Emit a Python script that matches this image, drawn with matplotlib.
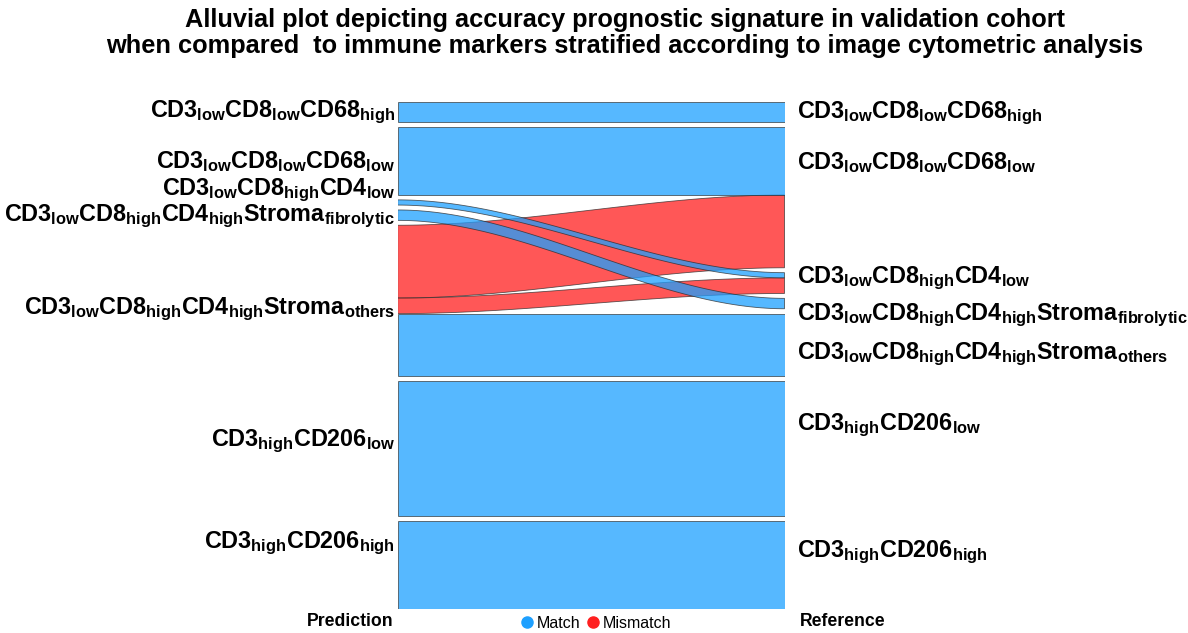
import numpy as np
import matplotlib.pyplot as plt
from matplotlib.patches import Polygon
from matplotlib.lines import Line2D

plt.rcParams['font.family'] = 'Liberation Sans'
plt.rcParams['mathtext.fontset'] = 'custom'
plt.rcParams['mathtext.rm'] = 'Liberation Sans'
plt.rcParams['mathtext.bf'] = 'Liberation Sans:bold'
plt.rcParams['mathtext.it'] = 'Liberation Sans:italic'

## data #######################################################################
strata = [r'$\mathbf{CD3_{low}CD8_{low}CD68_{high}}$',
          r'$\mathbf{CD3_{low}CD8_{low}CD68_{low}}$',
          r'$\mathbf{CD3_{low}CD8_{high}CD4_{low}}$',
          r'$\mathbf{CD3_{low}CD8_{high}CD4_{high}Stroma_{fibrolytic}}$',
          r'$\mathbf{CD3_{low}CD8_{high}CD4_{high}Stroma_{others}}$',
          r'$\mathbf{CD3_{high}CD206_{low}}$',
          r'$\mathbf{CD3_{high}CD206_{high}}$']

# one entry per flow: predicted stratum -> reference stratum, patient count
pred   = [0, 1, 2, 3, 4, 4, 4, 5, 6]
ref    = [0, 1, 2, 3, 1, 2, 4, 5, 6]
counts = [4, 13, 1, 2, 14, 3, 12, 26, 17]

## options ####################################################################
W, H = 1188, 633
colMatch, colMis = '#1EA0FF', '#FF1F1F'
gap = 0.94

## stacking ###################################################################
nS = len(strata)
pred, ref, counts = np.array(pred), np.array(ref), np.array(counts)
match = pred == ref

def stack(side, other):
    # y-position of every flow on one axis, strata separated by a gap
    top = np.zeros(len(counts))
    y = 0.0
    for s in range(nS):
        idx = np.where(side == s)[0]
        idx = idx[np.argsort(other[idx], kind='stable')]
        for i in idx:
            top[i] = y
            y += counts[i]
        y += gap
    return top, y - gap

yL, total = stack(pred, ref)
yR, _     = stack(ref, pred)

## figure #####################################################################
fig = plt.figure(figsize=(W/100, H/100), dpi=100, facecolor='white')
xL, xR, yT, yB = 397.7, 784.5, 101.7, 609.4
ax = fig.add_axes([xL/W, 1 - yB/H, (xR - xL)/W, (yB - yT)/H])
ax.set_xlim(0, 1)
ax.set_ylim(total, 0)
ax.axis('off')

t = np.linspace(0, 1, 120)
s = 3*t**2 - 2*t**3
order = list(np.where(~match)[0]) + list(np.where(match)[0])
for i in order:
    top = yL[i] + (yR[i] - yL[i])*s
    bot = top + counts[i]
    pts = np.vstack([np.column_stack([t, top]),
                     np.column_stack([t[::-1], bot[::-1]])])
    ax.add_patch(Polygon(pts, closed=True,
                         facecolor=colMatch if match[i] else colMis,
                         alpha=0.75, edgecolor='#2a2a2a', lw=0.6))

# stratum labels
def px(x, y):
    return x/W, 1 - y/H

baseL = [117, 168, 195, 221, 314, 446, 548]
baseR = [118, 169, 283, 320, 359, 430, 557]
for k in range(nS):
    fig.text(*px(395, baseL[k]), strata[k], ha='right', va='baseline',
             fontsize=16.8)
    fig.text(*px(797, baseR[k]), strata[k], ha='left', va='baseline',
             fontsize=16.8)

# axis names
fig.text(*px(394, 621), 'Prediction', ha='right', va='center',
         fontsize=12.7, fontweight='bold')
fig.text(*px(800, 621), 'Reference', ha='left', va='center',
         fontsize=12.7, fontweight='bold')

# title
fig.text(*px(625, 33),
         'Alluvial plot depicting accuracy prognostic signature in validation cohort\n'
         'when compared  to immune markers stratified according to image cytometric analysis',
         ha='center', va='center', fontsize=18.3, fontweight='bold',
         linespacing=1.1)

# legend
handles = [Line2D([], [], marker='o', ls='', color=colMatch, markersize=8),
           Line2D([], [], marker='o', ls='', color=colMis, markersize=8)]
fig.legend(handles, ['Match', 'Mismatch'], loc='center',
           bbox_to_anchor=px(595, 623), ncol=2, frameon=False,
           fontsize=11.5, handletextpad=0.1, columnspacing=0.3,
           handlelength=1.0, borderpad=0)

plt.savefig('out.png', dpi=100, facecolor='white')
